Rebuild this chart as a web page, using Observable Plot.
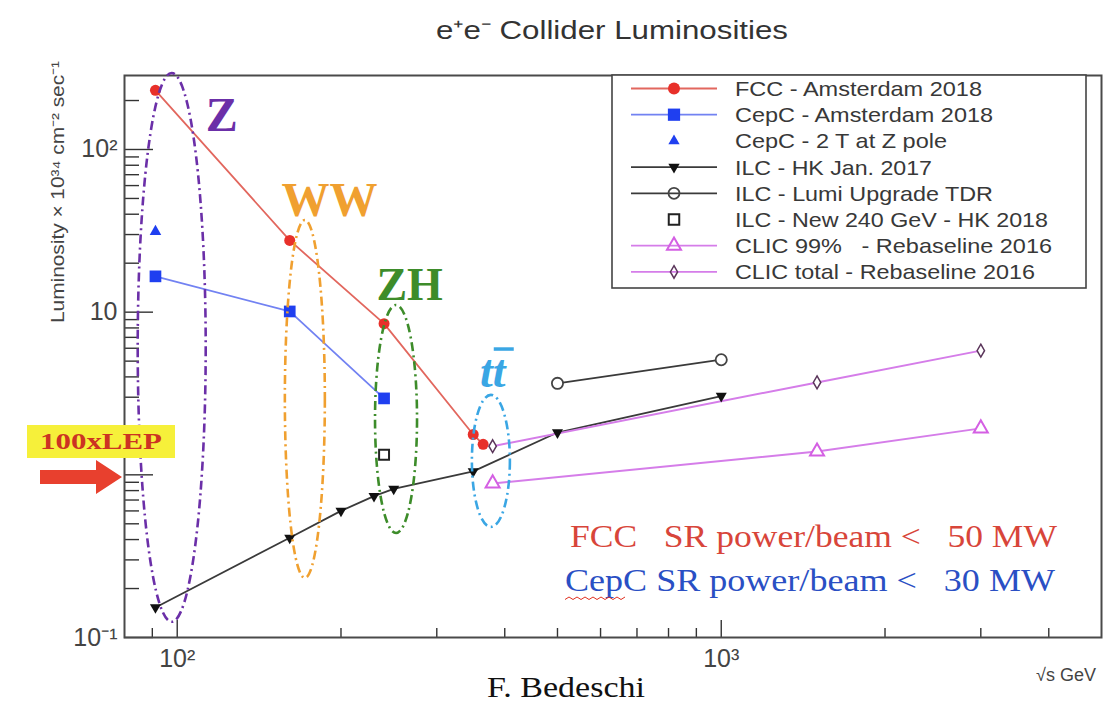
<!DOCTYPE html>
<html><head><meta charset="utf-8">
<script src="https://cdn.jsdelivr.net/npm/d3@7"></script>
<script src="https://cdn.jsdelivr.net/npm/@observablehq/plot@0.6"></script>
<style>body{margin:0;background:#fff;}</style>
</head><body><div id="chart"></div>
<script>
// ---------------- DATA ----------------
const seriesNames = [
  "FCC - Amsterdam 2018",
  "CepC - Amsterdam 2018",
  "CepC - 2 T at Z pole",
  "ILC - HK Jan. 2017",
  "ILC - Lumi Upgrade TDR",
  "ILC - New 240 GeV - HK 2018",
  "CLIC 99%   - Rebaseline 2016",
  "CLIC total - Rebaseline 2016"
];
const fccX = [91.2, 161, 240, 350, 365];
const fccY = [231, 27.6, 8.5, 1.77, 1.54];
const cepcX = [91.2, 161, 240];
const cepcY = [16.6, 10.1, 2.95];
const cepc2TX = [91.2];
const cepc2TY = [31.3];
const ilcX = [91.2, 161, 200, 230, 250, 350, 500, 1000];
const ilcY = [0.153, 0.41, 0.60, 0.74, 0.82, 1.05, 1.82, 3.05];
const ilcLumiX = [500, 1000];
const ilcLumiY = [3.65, 5.1];
const ilc240X = [240];
const ilc240Y = [1.33];
const clic99X = [380, 1500, 3000];
const clic99Y = [0.885, 1.39, 1.93];
const clicTotX = [380, 1500, 3000];
const clicTotY = [1.5, 3.7, 5.8];

const xLabeled = [100, 1000];
const xLabelText = ["10²", "10³"];
const yLabeled = [0.1, 10, 100];
const yLabelText = ["10⁻¹", "10", "10²"];
const xMajorTicks = [100, 1000];
const xMinorTicks = [90, 200, 300, 400, 500, 600, 700, 800, 900, 2000, 3000, 4000];
const yMajorTicks = [0.1, 1, 10, 100];
const yMinorTicks = [0.2, 0.3, 0.4, 0.5, 0.6, 0.7, 0.8, 0.9, 2, 3, 4, 5, 6, 7, 8, 9, 20, 30, 40, 50, 60, 70, 80, 90, 200];

const regionNames = ["Z", "WW", "ZH", "tt"];
const regionX = [97.9, 172, 253, 378];          // GeV, ellipse centre
const regionTop = [293, 36.6, 11, 3.08];        // luminosity at ellipse top
const regionBottom = [0.124, 0.231, 0.436, 0.475];
const regionLabelX = [121, 191, 268, 381];
const regionLabelY = [162, 48.6, 14.6, 4.3];

// ---------------- LAYOUT ----------------
const W = 1103, H = 701, mL = 124, mR = 2, mT = 75, mB = 64;
const plotW = W - mL - mR, plotH = H - mT - mB;

const downTri = {draw(ctx, size) {
  const y = -Math.sqrt(size / (Math.sqrt(3) * 3));
  ctx.moveTo(0, -y * 2);
  ctx.lineTo(-Math.sqrt(3) * y, y);
  ctx.lineTo(Math.sqrt(3) * y, y);
  ctx.closePath();
}};

const pts = (xs, ys) => xs.map((x, i) => ({x, y: ys[i]}));
const fcc = pts(fccX, fccY), cepc = pts(cepcX, cepcY), cepc2T = pts(cepc2TX, cepc2TY);
const ilc = pts(ilcX, ilcY), ilcLumi = pts(ilcLumiX, ilcLumiY), ilc240 = pts(ilc240X, ilc240Y);
const clic99 = pts(clic99X, clic99Y), clicTot = pts(clicTotX, clicTotY);

const C = {
  fccLine: "#e2675e", fccDot: "#e8302a",
  cepcLine: "#7282f2", cepcDot: "#1f3ff0",
  ilcLine: "#3a3a3a", ilcDot: "#111",
  clicLine: "#d57de9", clicTri: "#d45fe3", clicDia: "#5a355a"
};
const sans = "'Liberation Sans', Arial, sans-serif";

const plot = Plot.plot({
  width: W, height: H,
  marginLeft: mL, marginRight: mR, marginTop: mT, marginBottom: mB,
  style: {fontFamily: sans, fontSize: "17px", color: "#444", background: "#fff", overflow: "visible"},
  x: {type: "log", domain: [80, 5000], axis: null},
  y: {type: "log", domain: [0.1, 285], axis: null},
  marks: [
    Plot.text(xLabeled, {x: d => d, text: (d, i) => xLabelText[i], frameAnchor: "bottom",
      lineAnchor: "top", dy: 12, fontSize: 25, fill: "#444"}),
    Plot.text(yLabeled, {y: d => d, text: (d, i) => yLabelText[i], frameAnchor: "left",
      textAnchor: "end", dx: -7, fontSize: 25, fill: "#444"}),
    Plot.tickY(yMajorTicks, {y: d => d, insetRight: plotW - 29, stroke: "#333", strokeWidth: 1.4}),
    Plot.tickY(yMinorTicks, {y: d => d, insetRight: plotW - 15, stroke: "#333", strokeWidth: 1.4}),
    Plot.tickX(xMajorTicks, {x: d => d, insetTop: plotH - 17, stroke: "#333", strokeWidth: 1.4}),
    Plot.tickX(xMinorTicks, {x: d => d, insetTop: plotH - 9, stroke: "#333", strokeWidth: 1.4}),

    Plot.line(fcc, {x: "x", y: "y", stroke: C.fccLine, strokeWidth: 1.8}),
    Plot.line(cepc, {x: "x", y: "y", stroke: C.cepcLine, strokeWidth: 1.8}),
    Plot.line(ilc, {x: "x", y: "y", stroke: C.ilcLine, strokeWidth: 1.8}),
    Plot.line(ilcLumi, {x: "x", y: "y", stroke: C.ilcLine, strokeWidth: 1.8}),
    Plot.line(clic99, {x: "x", y: "y", stroke: C.clicLine, strokeWidth: 2}),
    Plot.line(clicTot, {x: "x", y: "y", stroke: C.clicLine, strokeWidth: 2}),

    Plot.dot(fcc, {x: "x", y: "y", r: 5.5, fill: C.fccDot, symbol: "circle"}),
    Plot.dot(cepc, {x: "x", y: "y", r: 6.6, fill: C.cepcDot, symbol: "square"}),
    Plot.dot(cepc2T, {x: "x", y: "y", r: 4.3, fill: C.cepcDot, symbol: "triangle"}),
    Plot.dot(ilc, {x: "x", y: "y", r: 4.1, fill: C.ilcDot, symbol: downTri}),
    Plot.dot(ilcLumi, {x: "x", y: "y", r: 5.6, fill: "#fff", stroke: "#444", strokeWidth: 1.8, symbol: "circle"}),
    Plot.dot(ilc240, {x: "x", y: "y", r: 5.6, fill: "#fff", stroke: "#222", strokeWidth: 2, symbol: "square"}),
    Plot.dot(clic99, {x: "x", y: "y", r: 5.2, fill: "#fff", stroke: C.clicTri, strokeWidth: 2, symbol: "triangle"}),
    Plot.dot(clicTot, {x: "x", y: "y", r: 3.9, fill: "#fff", stroke: C.clicDia, strokeWidth: 1.5, symbol: "diamond"}),

    Plot.frame({stroke: "#4a4a4a", strokeWidth: 2})
  ]
});
document.getElementById("chart").append(plot);

// ---------------- ANNOTATIONS ----------------
const svg = d3.select(plot);
const xs = plot.scale("x"), ys = plot.scale("y");
const X = v => xs.apply(v), Y = v => ys.apply(v);

function txt(x, y, s, o = {}) {
  const t = svg.append("text")
    .attr("x", x).attr("y", y)
    .attr("text-anchor", o.anchor || "start")
    .attr("font-family", o.family || sans)
    .attr("font-size", o.size || 16)
    .attr("font-weight", o.weight || "normal")
    .attr("font-style", o.style || "normal")
    .attr("fill", o.fill || "#333")
    .style("white-space", "pre")
    .text(s);
  if (o.dom) t.attr("dominant-baseline", o.dom);
  if (o.width) t.attr("textLength", o.width).attr("lengthAdjust", "spacingAndGlyphs");
  if (o.transform) t.attr("transform", o.transform);
  return t;
}

// region ellipses
const regionColors = ["#6b2fa8", "#f0a030", "#3d8c2a", "#3aa6e4"];
const regionRx = [34, 20, 21, 19];
regionNames.forEach((n, i) => {
  const cx = X(regionX[i]);
  const y1 = Y(regionTop[i]), y2 = Y(regionBottom[i]);
  svg.append("ellipse")
    .attr("cx", cx).attr("cy", (y1 + y2) / 2)
    .attr("rx", regionRx[i]).attr("ry", (y2 - y1) / 2)
    .attr("fill", "none").attr("stroke", regionColors[i])
    .attr("stroke-width", 2.6).attr("stroke-dasharray", "9,4,2,4");
});
// region labels
const regionSizes = [48, 48, 46, 46];
regionNames.forEach((n, i) => {
  txt(X(regionLabelX[i]), Y(regionLabelY[i]), n, {
    anchor: "middle", dom: "central", size: regionSizes[i],
    family: "'Liberation Serif', 'Times New Roman', serif", weight: "bold",
    style: n === "tt" ? "italic" : "normal", fill: regionColors[i]
  });
  if (n === "tt") {
    const bx = X(regionLabelX[i]);
    svg.append("rect").attr("x", bx + 1).attr("y", Y(regionLabelY[i]) - 24)
      .attr("width", 20).attr("height", 3.5).attr("fill", regionColors[i]);
  }
});

// legend
const legendStyle = [
  {line: C.fccLine, sym: d3.symbolCircle, size: Math.PI * 36, fill: C.fccDot},
  {line: C.cepcLine, sym: d3.symbolSquare, size: 150, fill: C.cepcDot},
  {line: null, sym: d3.symbolTriangle, size: 55, fill: C.cepcDot},
  {line: C.ilcLine, sym: downTri, size: 55, fill: C.ilcDot},
  {line: C.ilcLine, sym: d3.symbolCircle, size: Math.PI * 30, fill: "none", stroke: "#444", sw: 1.8},
  {line: null, sym: d3.symbolSquare, size: 110, fill: "#fff", stroke: "#222", sw: 2},
  {line: C.clicLine, sym: d3.symbolTriangle, size: 85, fill: "none", stroke: C.clicTri, sw: 2},
  {line: C.clicLine, sym: d3.symbolDiamond, size: 45, fill: "none", stroke: C.clicDia, sw: 1.5}
];
const legendWidths = [247, 258, 212, 197, 258, 313, 317, 300];
svg.append("rect").attr("x", 612).attr("y", 75).attr("width", 474).attr("height", 213)
  .attr("fill", "#fff").attr("stroke", "#444").attr("stroke-width", 1.6);
seriesNames.forEach((name, i) => {
  const ly = 88.5 + i * 26.2;
  const st = legendStyle[i];
  if (st.line) svg.append("line").attr("x1", 631).attr("x2", 717).attr("y1", ly).attr("y2", ly)
    .attr("stroke", st.line).attr("stroke-width", 1.8);
  svg.append("path").attr("d", d3.symbol().type(st.sym).size(st.size)())
    .attr("transform", `translate(674,${ly})`)
    .attr("fill", st.fill).attr("stroke", st.stroke || "none").attr("stroke-width", st.sw || 0);
  txt(735, ly + 7.5, name, {size: 21, fill: "#383838", width: legendWidths[i]});
});

// title, axis labels, captions
txt(612, 39, "e⁺e⁻ Collider Luminosities", {anchor: "middle", size: 25, fill: "#333", width: 352});
txt(0, 0, "Luminosity × 10³⁴ cm⁻² sec⁻¹", {anchor: "middle", size: 18, fill: "#444", width: 262,
  transform: "translate(64,192) rotate(-90)"});
txt(1096, 681, "√s GeV", {anchor: "end", size: 18, fill: "#444"});
txt(566, 697, "F. Bedeschi", {anchor: "middle", size: 29, fill: "#111",
  family: "'Liberation Serif', 'Times New Roman', serif", width: 158});

txt(570, 547, "FCC   SR power/beam <   50 MW", {size: 32, fill: "#d8453a",
  family: "'Liberation Serif', 'Times New Roman', serif", width: 487});
txt(565, 591, "CepC SR power/beam <   30 MW", {size: 32, fill: "#2a4fc4",
  family: "'Liberation Serif', 'Times New Roman', serif", width: 490});
// spell-check squiggle under "CepC"
svg.append("path").attr("d", d3.range(0, 16).map(k => `${k ? "L" : "M"}${565 + k * 4},${k % 2 ? 597 : 599.5}`).join(""))
  .attr("fill", "none").attr("stroke", "#e03020").attr("stroke-width", 1);

// 100xLEP box and arrow
svg.append("rect").attr("x", 27).attr("y", 425).attr("width", 148).attr("height", 33).attr("fill", "#f6f03a");
txt(101, 449, "100xLEP", {anchor: "middle", size: 23, weight: "bold", fill: "#cc3322",
  family: "'Liberation Serif', 'Times New Roman', serif", width: 122});
svg.append("path").attr("d", "M40,470 L96,470 L96,460 L122,477 L96,494 L96,484 L40,484 Z").attr("fill", "#e8402e");
</script>
</body></html>
